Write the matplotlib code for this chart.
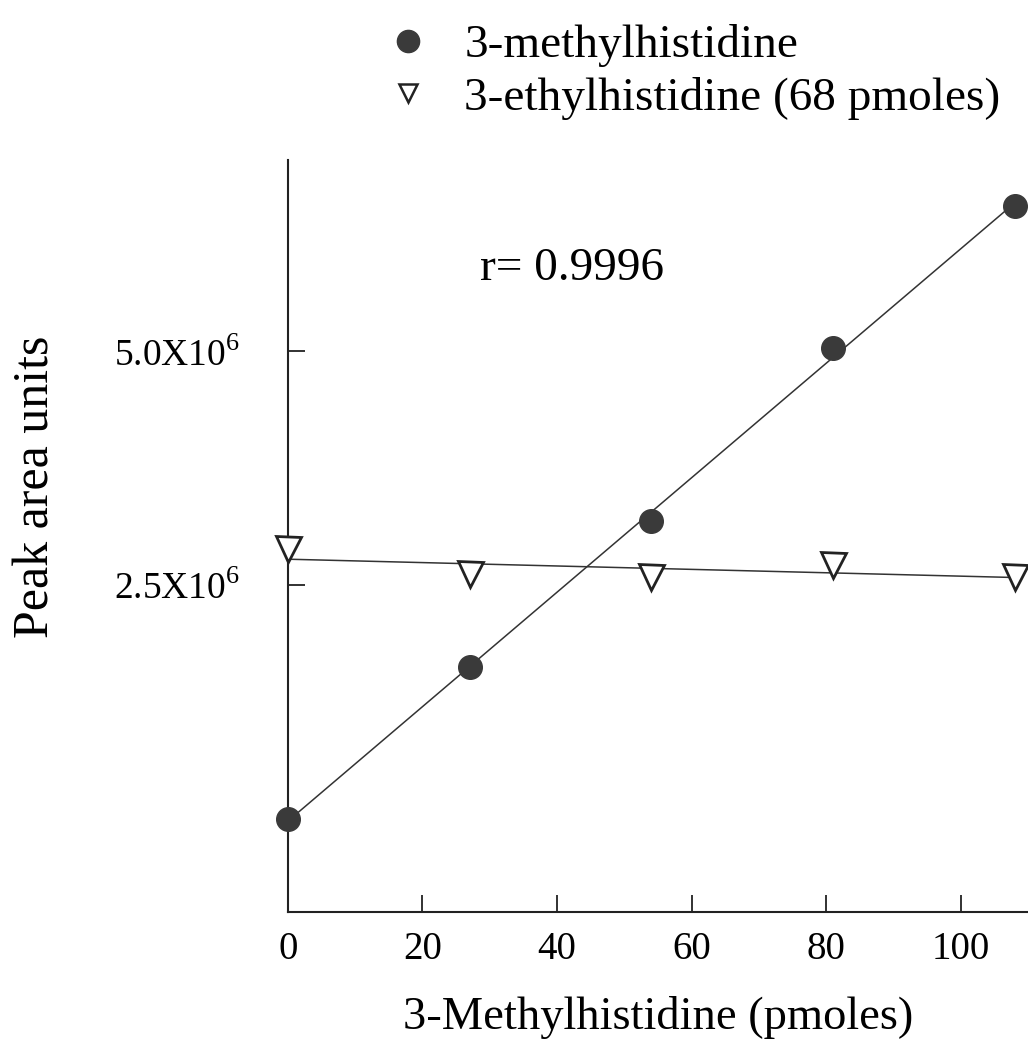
import numpy as np
import matplotlib
matplotlib.use("Agg")
import matplotlib.pyplot as plt
from matplotlib.lines import Line2D

plt.rcParams['font.family'] = ['Liberation Serif', 'DejaVu Serif']
plt.rcParams['mathtext.fontset'] = 'custom'
plt.rcParams['mathtext.rm'] = 'Liberation Serif'

x_pmol = [0, 27, 54, 81, 108]
methyl_area = [0.0, 1.62e6, 3.18e6, 5.04e6, 6.56e6]
ethyl_area = [2.88e6, 2.62e6, 2.59e6, 2.71e6, 2.59e6]
x_ticks = [0, 20, 40, 60, 80, 100]
y_ticks = [2.5e6, 5.0e6]
y_tick_labels = [r'2.5X10$^{6}$', r'5.0X10$^{6}$']
legend_labels = ['3-methylhistidine', '3-ethylhistidine (68 pmoles)']
r_text = 'r= 0.9996'

fig = plt.figure(figsize=(10.28, 10.49), dpi=100)
ax = fig.add_axes([0.280, 0.1306, 0.720, 0.717])

xs = np.array(x_pmol, dtype=float)
m1 = np.polyfit(xs, methyl_area, 1)
m2 = np.polyfit(xs, ethyl_area, 1)
xl = np.array([0, 108])
ax.plot(xl, np.polyval(m1, xl), color='#333333', lw=1.1, zorder=2)
ax.plot(xl, np.polyval(m2, xl), color='#333333', lw=1.1, zorder=2)
ax.plot(xs, methyl_area, 'o', ms=17, color='#3a3a3a', mec='#3a3a3a', clip_on=False, zorder=3)
ax.plot(xs, ethyl_area, 'v', ms=18, mfc='white', mec='#222222', mew=2.0, clip_on=False, zorder=3)

ax.set_xlim(0, 110)
ax.set_ylim(-1.0e6, 7.05e6)
for s in ['top', 'right']:
    ax.spines[s].set_visible(False)
for s in ['left', 'bottom']:
    ax.spines[s].set_linewidth(1.5)
    ax.spines[s].set_color('#222222')

ax.set_xticks(x_ticks)
ax.set_xticklabels([str(t) for t in x_ticks])
ax.set_yticks(y_ticks)
ax.set_yticklabels(y_tick_labels)
ax.tick_params(axis='both', direction='in', length=12, width=1.3, color='#222222')
ax.tick_params(axis='x', pad=14, labelsize=28)
ax.tick_params(axis='y', pad=34, labelsize=27)

ax.set_xlabel('3-Methylhistidine (pmoles)', fontsize=33.5, labelpad=20)
ax.set_ylabel('Peak area units', fontsize=36, rotation=90, rotation_mode='default',
              ha='center', va='center')
ax.yaxis.set_label_coords(-0.34, 0.565)

ax.text(28.5, 5.88e6, r_text, fontsize=34, ha='left', va='center')

handles = [Line2D([], [], marker='o', ls='', ms=16, color='#3a3a3a'),
           Line2D([], [], marker='v', ls='', ms=13, mfc='white', mec='#222222', mew=1.8)]
fig.legend(handles, legend_labels, loc='upper left', bbox_to_anchor=(0.356, 0.995),
           frameon=False, fontsize=34, handletextpad=0.68, labelspacing=0.2,
           handlelength=1.0, borderaxespad=0)

fig.savefig('out.png', dpi=100)
